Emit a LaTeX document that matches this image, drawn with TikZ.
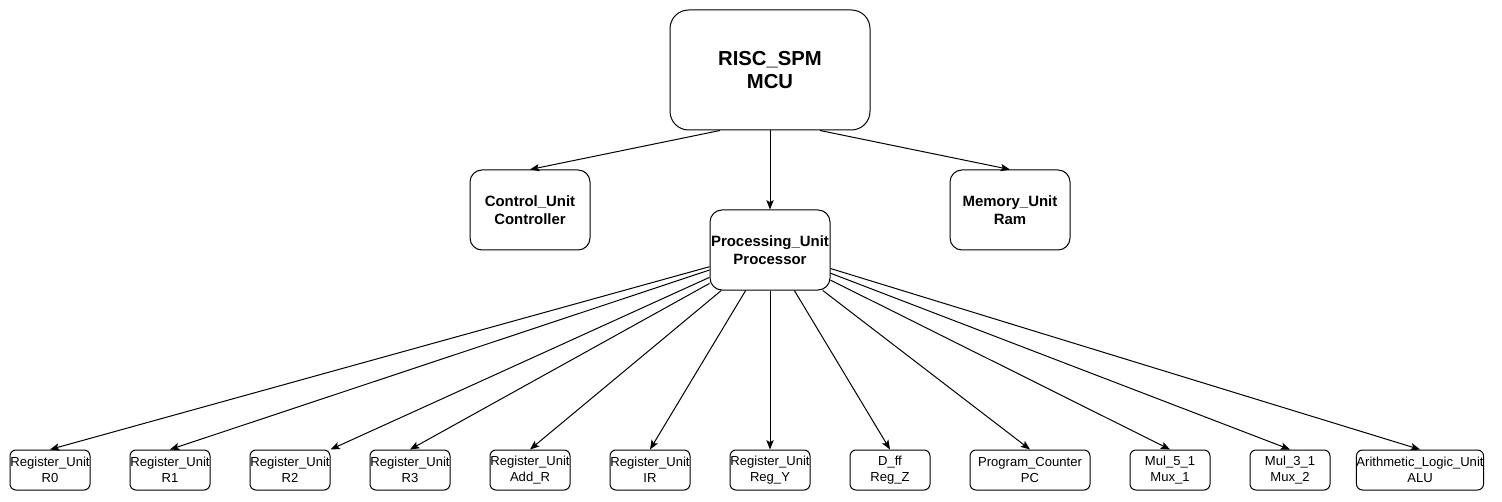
\documentclass[tikz,border=0pt]{standalone}
\usepackage{fontspec}
\setmainfont{Liberation Sans}
\usetikzlibrary{arrows.meta}
\tikzset{
  box/.style={draw=black, line width=0.75pt, fill=white, align=center, inner sep=0pt},
  topbox/.style={box, minimum width=150pt, minimum height=90pt, rounded corners=14pt, font=\fontsize{15.2}{17}\selectfont\bfseries},
  midbox/.style={box, minimum width=90pt, minimum height=60pt, rounded corners=9pt, font=\fontsize{11.2}{13.5}\selectfont\bfseries},
  botbox/.style={box, minimum width=60pt, minimum height=30pt, rounded corners=4.5pt, font=\fontsize{9.8}{11.8}\selectfont},
  widebox/.style={botbox, minimum width=90pt},
  conn/.style={draw=black, line width=0.75pt, -{Stealth[length=7pt,width=5.5pt,inset=1.5pt]}}
}
\begin{document}
\begin{tikzpicture}[x=0.75pt, y=-0.75pt]
\path[use as bounding box, fill=white] (0,0) rectangle (1502,502);
\node[topbox] (mcu) at (770,70) {RISC\_SPM\\MCU};
\node[midbox] (ctrl) at (530,210) {Control\_Unit\\Controller};
\node[midbox] (proc) at (770,250) {Processing\_Unit\\Processor};
\node[midbox] (mem) at (1010,210) {Memory\_Unit\\Ram};

\node[botbox] (r0) at (50,470) {Register\_Unit\\R0};
\node[botbox] (r1) at (170,470) {Register\_Unit\\R1};
\node[botbox] (r2) at (290,470) {Register\_Unit\\R2};
\node[botbox] (r3) at (410,470) {Register\_Unit\\R3};
\node[botbox] (addr) at (530,470) {Register\_Unit\\Add\_R};
\node[botbox] (ir) at (650,470) {Register\_Unit\\IR};
\node[botbox] (regy) at (770,470) {Register\_Unit\\Reg\_Y};
\node[botbox] (regz) at (890,470) {D\_ff\\Reg\_Z};
\node[widebox] (pc) at (1030,470) {Program\_Counter\\PC};
\node[botbox] (mux1) at (1170,470) {Mul\_5\_1\\Mux\_1};
\node[botbox] (mux2) at (1290,470) {Mul\_3\_1\\Mux\_2};
\node[widebox] (alu) at (1420,470) {Arithmetic\_Logic\_Unit\\ALU};

\draw[conn] ([xshift=-37.5pt]mcu.south) -- (ctrl.north);
\draw[conn] (mcu.south) -- (proc.north);
\draw[conn] ([xshift=37.5pt]mcu.south) -- (mem.north);

\foreach \t in {r0,r1,r3,addr,ir,regy,regz,pc,mux1,mux2,alu}
  \draw[conn] (proc) -- (\t.north);
\draw[conn] (proc) -- (r2.north east);
\end{tikzpicture}
\end{document}
